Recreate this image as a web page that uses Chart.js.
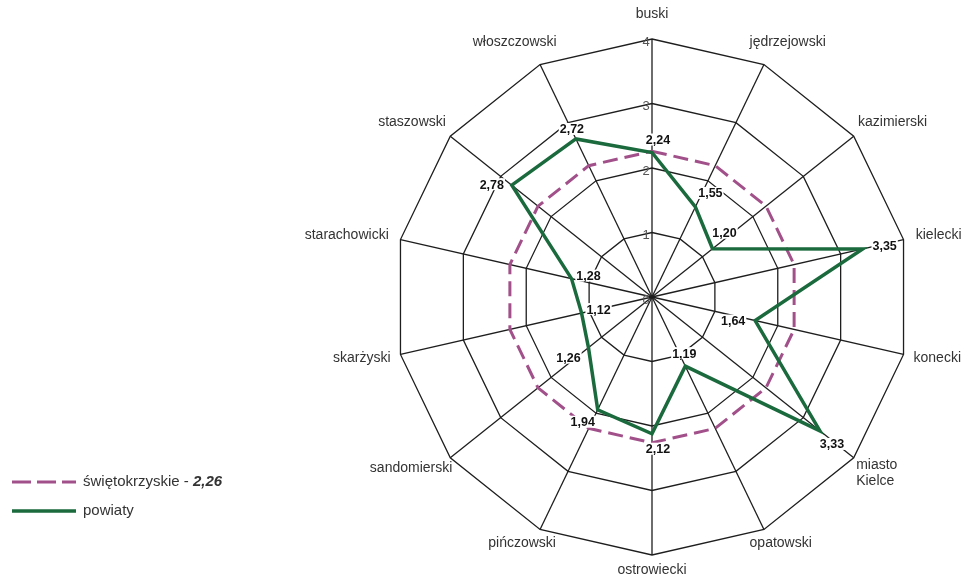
<!DOCTYPE html>
<html>
<head>
<meta charset="utf-8">
<script src="https://cdn.jsdelivr.net/npm/chart.js@4.4.0/dist/chart.umd.min.js"></script>
<style>
  html, body { margin: 0; padding: 0; background: #fff; overflow: hidden; }
  #wrap { position: relative; width: 968px; height: 574px; }
</style>
</head>
<body>
<div id="wrap"><canvas id="radar"></canvas></div>
<script>
// dane
var categories = ['buski', 'jędrzejowski', 'kazimierski', 'kielecki', 'konecki', ['miasto', 'Kielce'],
    'opatowski', 'ostrowiecki', 'pińczowski', 'sandomierski', 'skarżyski', 'starachowicki',
    'staszowski', 'włoszczowski'];
var powiatyValues = [2.24, 1.55, 1.20, 3.35, 1.64, 3.33, 1.19, 2.12, 1.94, 1.26, 1.12, 1.28, 2.78, 2.72];
var regionValue = 2.26;
var regionValues = categories.map(function () { return regionValue; });
var tickLabels = ['0', '1', '2', '3', '4'];
var regionName = 'świętokrzyskie';
var powiatyName = 'powiaty';

var GREEN = '#1b6a3d';
var PURPLE = '#a2508a';
var FONT = '"Liberation Sans", Arial, sans-serif';

// przesuniecia etykiet wartosci wzgledem punktow
var labelOffsets = [[6, -13], [15, -14], [12, -16], [22, -3], [-22, 0], [12, 13], [-1, -13],
    [6, 15], [-15, 12], [-20, 10], [17, -4], [17, -3], [-20, -1], [-4, -10]];

function fmt(v) {
    return v.toFixed(2).replace('.', ',');
}

var extras = {
    id: 'extras',
    beforeDatasetsDraw: function (chart) {
        var ctx = chart.ctx, r = chart.scales.r;
        ctx.save();
        // etykiety osi
        ctx.font = '13px ' + FONT;
        ctx.fillStyle = '#555';
        ctx.textAlign = 'center';
        ctx.textBaseline = 'middle';
        r.ticks.forEach(function (t, i) {
            var d = r.getDistanceFromCenterForValue(t.value);
            ctx.fillText(tickLabels[i], r.xCenter - 6, r.yCenter - d + 3);
        });
        // nazwy powiatow
        ctx.font = '14px ' + FONT;
        ctx.fillStyle = '#333';
        ctx.textAlign = 'left';
        categories.forEach(function (lab, i) {
            var lines = Array.isArray(lab) ? lab : [lab];
            var w = 0;
            lines.forEach(function (ln) { w = Math.max(w, ctx.measureText(ln).width); });
            var lh = 16, h = lines.length * lh;
            var a = r.getIndexAngle(i);
            var gap = 12 + 5 * Math.cos(a);
            var p = r.getPointPosition(i, r.drawingArea + gap);
            var cx = p.x + Math.sin(a) * w / 2;
            var cy = p.y - Math.cos(a) * h / 2;
            lines.forEach(function (ln, k) {
                ctx.fillText(ln, cx - w / 2, cy - h / 2 + lh / 2 + k * lh);
            });
        });
        ctx.restore();
    },
    afterDatasetsDraw: function (chart) {
        var ctx = chart.ctx;
        var meta = chart.getDatasetMeta(0);
        ctx.save();
        ctx.font = 'bold 12.5px ' + FONT;
        ctx.textAlign = 'center';
        ctx.textBaseline = 'middle';
        meta.data.forEach(function (pt, i) {
            var txt = fmt(powiatyValues[i]);
            var x = pt.x + labelOffsets[i][0], y = pt.y + labelOffsets[i][1];
            var w = ctx.measureText(txt).width;
            ctx.fillStyle = '#fff';
            ctx.fillRect(x - w / 2 - 1, y - 6, w + 2, 12);
            ctx.fillStyle = '#111';
            ctx.fillText(txt, x, y + 1);
        });

        // legenda
        ctx.lineWidth = 3;
        ctx.strokeStyle = PURPLE;
        ctx.setLineDash([19, 6]);
        ctx.beginPath(); ctx.moveTo(12, 482); ctx.lineTo(76, 482); ctx.stroke();
        ctx.setLineDash([]);
        ctx.strokeStyle = GREEN;
        ctx.lineWidth = 3.5;
        ctx.beginPath(); ctx.moveTo(12, 511); ctx.lineTo(76, 511); ctx.stroke();

        ctx.textAlign = 'left';
        ctx.fillStyle = '#333';
        ctx.font = '15px ' + FONT;
        var t1 = regionName + ' - ';
        ctx.fillText(t1, 83, 482);
        var w1 = ctx.measureText(t1).width;
        ctx.font = 'italic bold 15px ' + FONT;
        ctx.fillText(fmt(regionValue), 83 + w1, 482);
        ctx.font = '15px ' + FONT;
        ctx.fillText(powiatyName, 83, 511);
        ctx.restore();
    }
};

var ctx = document.getElementById('radar').getContext('2d');
var myChart = new Chart(ctx, {
    type: 'radar',
    data: {
        labels: categories,
        datasets: [{
            label: powiatyName,
            data: powiatyValues,
            borderColor: GREEN,
            borderWidth: 3.5,
            backgroundColor: 'rgba(0,0,0,0)',
            fill: false,
            pointRadius: 0,
            pointHoverRadius: 0,
            tension: 0
        }, {
            label: regionName,
            data: regionValues,
            borderColor: PURPLE,
            borderWidth: 3,
            borderDash: [15, 7],
            backgroundColor: 'rgba(0,0,0,0)',
            fill: false,
            pointRadius: 0,
            pointHoverRadius: 0,
            tension: 0
        }]
    },
    options: {
        responsive: true,
        maintainAspectRatio: false,
        animation: false,
        layout: { padding: { left: 394, right: 58, top: 39, bottom: 19 } },
        plugins: {
            legend: { display: false },
            tooltip: { enabled: false }
        },
        scales: {
            r: {
                min: 0,
                max: 4,
                ticks: { stepSize: 1, display: false },
                grid: { color: '#1e1e1e', lineWidth: 1.3 },
                angleLines: { color: '#1e1e1e', lineWidth: 1.3 },
                pointLabels: { display: false }
            }
        }
    },
    plugins: [extras]
});
</script>
</body>
</html>
